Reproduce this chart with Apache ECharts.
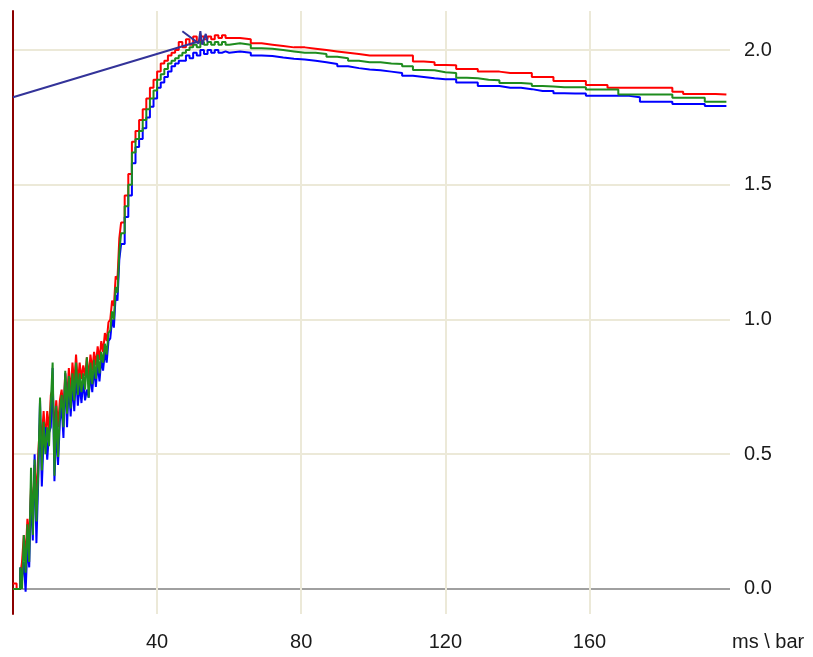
<!DOCTYPE html>
<html>
  <head>
    <meta charset="UTF-8">
    <title>ms \ bar</title>
    <script src="https://cdn.jsdelivr.net/npm/echarts@6/dist/echarts.min.js"></script>
    <style>
      html, body { margin: 0; padding: 0; background: #fff; }
      #chart { width: 813px; height: 657px; }
    </style>
  </head>
  <body>
    <div id="chart"></div>
    <script type="text/javascript">
     // sample times (ms)
     var ms = [
       0, 0.5, 1, 1.5, 2, 2.5, 3, 3.5, 4, 4.5, 5, 5.5, 6, 6.5, 7, 7.5, 8, 8.5, 9, 9.5,
       10, 10.5, 11, 11.5, 12, 12.5, 13, 13.5, 14, 14.5, 15, 15.5, 16, 16.5, 17, 17.5, 18, 18.5, 19, 19.5,
       20, 20.5, 21, 21.5, 22, 22.5, 23, 23.5, 24, 24.5, 25, 25.5, 26, 26.5, 27, 27.5, 28, 28.5, 29, 29.5,
       30, 31, 32, 33, 34, 35, 36, 37, 38, 39, 40, 41, 42, 43, 44, 45, 46, 47, 48, 49,
       50, 51, 52, 53, 54, 55, 56, 57, 58, 59,
       60, 63, 66, 69, 72, 75, 78, 81, 84, 87, 90, 93, 96, 99, 102, 105, 108, 111, 114, 117,
       120, 123, 126, 129, 132, 135, 138, 141, 144, 147, 150, 153, 156, 159, 162, 165, 168, 171, 174, 177,
       180, 183, 186, 189, 192, 195, 198
     ];
     // pressure (bar)
     var red = [
       0.02, 0.02, 0, 0, 0.05, 0.1, 0.2, 0.12, 0.26, 0.18, 0.38, 0.3, 0.46, 0.34, 0.5, 0.62, 0.56, 0.66, 0.55, 0.66,
       0.58, 0.72, 0.74, 0.58, 0.7, 0.6, 0.7, 0.74, 0.66, 0.8, 0.7, 0.82, 0.72, 0.84, 0.76, 0.87, 0.76, 0.84, 0.78, 0.83,
       0.79, 0.86, 0.78, 0.87, 0.81, 0.88, 0.83, 0.9, 0.85, 0.92, 0.88, 0.95, 0.92, 0.99, 1.0, 1.07, 1.05, 1.16, 1.15, 1.3,
       1.36, 1.46, 1.54, 1.66, 1.7, 1.74, 1.78, 1.82, 1.86, 1.89, 1.92, 1.95, 1.96, 1.98, 1.99, 2.0, 2.03, 2.01, 2.04, 2.02,
       2.05, 2.03, 2.05, 2.04, 2.05, 2.04, 2.055, 2.045, 2.055, 2.045,
       2.045, 2.04, 2.025, 2.02, 2.015, 2.01, 2.01, 2.005, 2.0, 1.995, 1.99, 1.985, 1.98, 1.98, 1.98, 1.98, 1.98, 1.958, 1.955, 1.945,
       1.944, 1.93, 1.93, 1.92, 1.92, 1.915, 1.915, 1.915, 1.9, 1.9, 1.885, 1.885, 1.885, 1.87, 1.87, 1.86, 1.86, 1.86, 1.86, 1.86,
       1.86, 1.845, 1.837, 1.837, 1.837, 1.835, 1.833
     ];
     var green = [
       0, 0, 0, 0, 0.08, 0, 0.2, 0.06, 0.24, 0.1, 0.45, 0.2, 0.48, 0.25, 0.43, 0.71, 0.44, 0.62, 0.5, 0.6,
       0.53, 0.69, 0.84, 0.42, 0.68, 0.49, 0.66, 0.72, 0.6, 0.81, 0.65, 0.79, 0.67, 0.8, 0.7, 0.84, 0.72, 0.8, 0.73, 0.8,
       0.74, 0.86, 0.71, 0.84, 0.76, 0.85, 0.78, 0.87, 0.8, 0.88, 0.84, 0.91, 0.87, 0.95, 0.96, 1.03, 1.0, 1.12, 1.1, 1.25,
       1.32, 1.42, 1.5, 1.62, 1.67, 1.7, 1.74, 1.78, 1.82, 1.85, 1.89, 1.91, 1.93, 1.95, 1.96, 1.97, 1.98, 1.99, 2.0, 2.01,
       2.02, 2.01, 2.03, 2.02, 2.03, 2.02, 2.03, 2.02, 2.03, 2.02,
       2.025, 2.02, 2.007, 2.005, 2.0, 1.995, 1.99, 1.99, 1.985, 1.975, 1.97, 1.96, 1.955, 1.955, 1.95, 1.948, 1.94, 1.926, 1.925, 1.918,
       1.915, 1.897, 1.895, 1.89, 1.888, 1.878, 1.878, 1.875, 1.867, 1.865, 1.862, 1.862, 1.862, 1.854, 1.854, 1.854, 1.835, 1.835, 1.835, 1.835,
       1.835, 1.823, 1.823, 1.823, 1.808, 1.808, 1.808
     ];
     var blue = [
       0, 0, 0, 0, 0.08, 0.04, 0.1, -0.01, 0.16, 0.08, 0.36, 0.18, 0.5, 0.17, 0.4, 0.7, 0.38, 0.56, 0.6, 0.48,
       0.58, 0.6, 0.82, 0.4, 0.6, 0.46, 0.62, 0.68, 0.56, 0.8, 0.6, 0.77, 0.64, 0.76, 0.66, 0.8, 0.68, 0.76, 0.69, 0.77,
       0.7, 0.74, 0.71, 0.8, 0.73, 0.82, 0.75, 0.84, 0.77, 0.85, 0.81, 0.88, 0.84, 0.92, 0.93, 1.0, 0.97, 1.09, 1.07, 1.22,
       1.28, 1.38, 1.46, 1.58, 1.64, 1.67, 1.71, 1.75, 1.79, 1.82, 1.86, 1.88, 1.9, 1.92, 1.94, 1.95, 1.96, 1.96, 1.98, 1.97,
       1.99, 1.98, 2.0, 1.985, 2.0, 1.99, 2.0, 1.99, 1.995, 1.99,
       1.995, 1.99, 1.98, 1.978, 1.972, 1.968, 1.965, 1.96, 1.955, 1.948, 1.94, 1.933, 1.928, 1.925, 1.92, 1.915, 1.905, 1.9, 1.895, 1.892,
       1.892, 1.88, 1.88, 1.867, 1.867, 1.86, 1.86, 1.855, 1.848, 1.848, 1.84, 1.839, 1.839, 1.83, 1.83, 1.83, 1.83, 1.825, 1.808, 1.808,
       1.808, 1.8, 1.8, 1.8, 1.792, 1.792, 1.792
     ];
     // reference trace: rising line, a gap, then the short "x" near the peak
     var navyX = [0, 51, 47, 47, 51.5, 52, 52.5, 53.5, 54];
     var navyY = [1.825, 2.03, '-', 2.07, 2.025, 2.07, 2.02, 2.06, 2.03];
     var yTicks = [0, 0.5, 1, 1.5, 2];
     var xTicks = [40, 80, 120, 160];

     function pairs(xs, ys) {
       var out = [];
       for (var i = 0; i < xs.length; i++) {
         out.push([xs[i], ys[i]]);
       }
       return out;
     }

     var font = 'Liberation Sans';
     var textColor = '#1a1a1a';
     var chart = echarts.init(document.getElementById('chart'));
     chart.setOption({
       animation: false,
       grid: { left: 13, right: 83, top: 11, bottom: 43, containLabel: false },
       graphic: [{
         type: 'text',
         left: 732,
         top: 632,
         style: { text: 'ms \\ bar', fontFamily: font, fontSize: 20, fill: textColor }
       }],
       xAxis: {
         type: 'value',
         min: 0,
         max: 199,
         axisLine: { show: false },
         axisTick: { show: false, customValues: xTicks },
         axisLabel: { customValues: xTicks, margin: 18, fontFamily: font, fontSize: 20, color: textColor },
         splitLine: { show: true, lineStyle: { color: '#ece9d8', width: 2 } }
       },
       yAxis: [{
         type: 'value',
         position: 'right',
         min: -0.093,
         max: 2.145,
         axisLine: { show: false },
         axisTick: { show: false, customValues: yTicks },
         axisLabel: {
           customValues: yTicks, margin: 14, fontFamily: font, fontSize: 20, color: textColor,
           formatter: function (v) { return v.toFixed(1); }
         },
         splitLine: { show: true, lineStyle: { color: ['#a0a0a0', '#ece9d8', '#ece9d8', '#ece9d8', '#ece9d8'], width: 2 } }
       }, {
         type: 'value',
         position: 'left',
         min: -0.093,
         max: 2.145,
         axisLine: { show: true, lineStyle: { color: '#8b0000', width: 2 } },
         axisTick: { show: false },
         axisLabel: { show: false },
         splitLine: { show: false }
       }],
       series: [
         { name: 'red', type: 'line', step: 'end', showSymbol: false, data: pairs(ms, red),
           lineStyle: { color: '#ff0000', width: 2 }, itemStyle: { color: '#ff0000' } },
         { name: 'blue', type: 'line', step: 'end', showSymbol: false, data: pairs(ms, blue),
           lineStyle: { color: '#0000ff', width: 2 }, itemStyle: { color: '#0000ff' } },
         { name: 'green', type: 'line', step: 'end', showSymbol: false, data: pairs(ms, green),
           lineStyle: { color: '#1e8c1e', width: 2 }, itemStyle: { color: '#1e8c1e' } },
         { name: 'ref', type: 'line', showSymbol: false, data: pairs(navyX, navyY), connectNulls: false,
           lineStyle: { color: '#333399', width: 2 }, itemStyle: { color: '#333399' } }
       ]
     });
    </script>
  </body>
</html>
